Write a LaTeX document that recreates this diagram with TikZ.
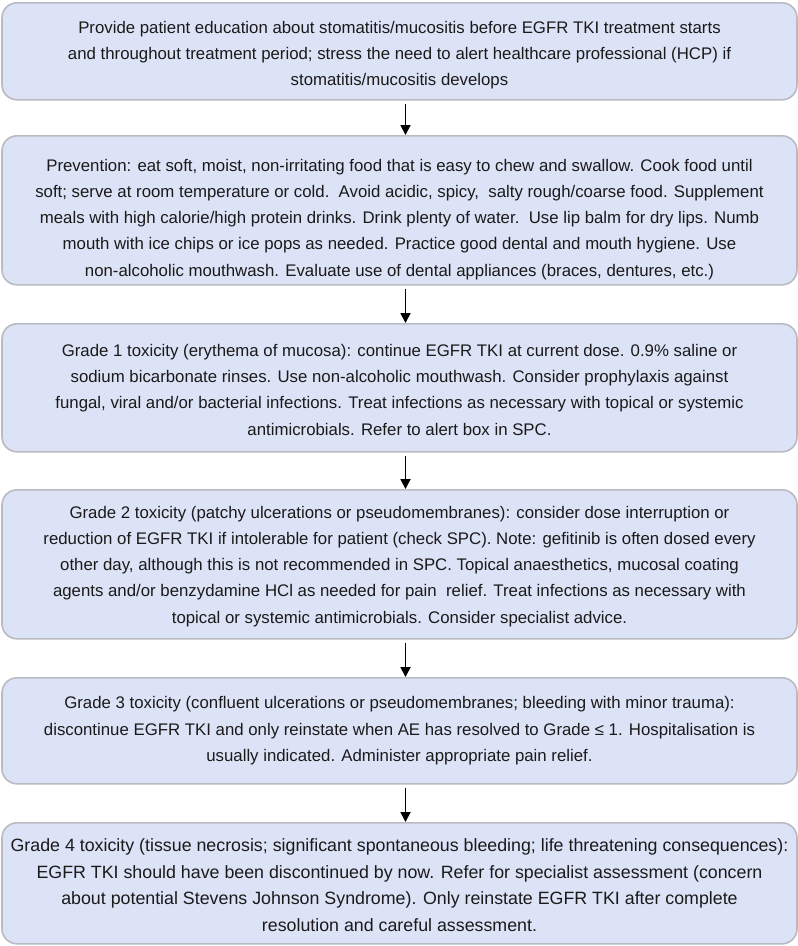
\documentclass[tikz,border=0pt]{standalone}
\usepackage{fontspec}
\setmainfont{Liberation Sans}
\usetikzlibrary{arrows.meta}
\definecolor{boxfill}{HTML}{DDE3F7}
\definecolor{boxline}{HTML}{BABAC2}
\definecolor{txt}{HTML}{1A1A1A}
\begin{document}
\begin{tikzpicture}[x=1pt,y=1pt,
  flowbox/.style={draw=boxline, line width=1.6pt, fill=boxfill, rounded corners=15pt,
    minimum width=795pt, inner sep=0pt, anchor=north},
  boxtext/.style={align=center, text=txt, font=\fontsize{16.8}{26.3}\selectfont, inner sep=0pt},
  bigtext/.style={boxtext, font=\fontsize{17.8}{26.5}\selectfont},
  flowarrow/.style={line width=1.8pt, -{Triangle[width=10pt,length=10pt]}, shorten <=3pt}
]
\useasboundingbox (0,0) rectangle (798,-946);
\node[flowbox, minimum height=97pt]  (b1) at (399.5,-2) {};
\node[flowbox, minimum height=149pt] (b2) at (399.5,-135) {};
\node[flowbox, minimum height=128pt] (b3) at (399.5,-323) {};
\node[flowbox, minimum height=149pt] (b4) at (399.5,-489) {};
\node[flowbox, minimum height=106pt] (b5) at (399.5,-677) {};
\node[flowbox, minimum height=121pt] (b6) at (399.5,-822) {};

\node[boxtext] (t1) at ([yshift=-4pt]b1.center) {Provide patient education about stomatitis/mucositis before EGFR TKI treatment starts\\
and throughout treatment period; stress the need to alert healthcare professional (HCP) if\\
stomatitis/mucositis develops};
\node[boxtext] (t2) at ([yshift=-9pt]b2.center) {Prevention: eat soft, moist, non-irritating food that is easy to chew and swallow. Cook food until\\
soft; serve at room temperature or cold.\ \ Avoid acidic, spicy,\ \ salty rough/coarse food. Supplement\\
meals with high calorie/high protein drinks. Drink plenty of water.\ \ Use lip balm for dry lips. Numb\\
mouth with ice chips or ice pops as needed. Practice good dental and mouth hygiene. Use\\
non-alcoholic mouthwash. Evaluate use of dental appliances (braces, dentures, etc.)};
\node[boxtext] (t3) at ([yshift=-2pt]b3.center) {Grade 1 toxicity (erythema of mucosa): continue EGFR TKI at current dose. 0.9\% saline or\\
sodium bicarbonate rinses. Use non-alcoholic mouthwash. Consider prophylaxis against\\
fungal, viral and/or bacterial infections. Treat infections as necessary with topical or systemic\\
antimicrobials. Refer to alert box in SPC.};
\node[boxtext] (t4) at ([yshift=-2pt]b4.center) {Grade 2 toxicity (patchy ulcerations or pseudomembranes): consider dose interruption or\\
reduction of EGFR TKI if intolerable for patient (check SPC). Note: gefitinib is often dosed every\\
other day, although this is not recommended in SPC. Topical anaesthetics, mucosal coating\\
agents and/or benzydamine HCl as needed for pain\ \ relief. Treat infections as necessary with\\
topical or systemic antimicrobials. Consider specialist advice.};
\node[boxtext] (t5) at ([yshift=0pt]b5.center) {Grade 3 toxicity (confluent ulcerations or pseudomembranes; bleeding with minor trauma):\\
discontinue EGFR TKI and only reinstate when AE has resolved to Grade ≤ 1. Hospitalisation is\\
usually indicated. Administer appropriate pain relief.};
\node[bigtext] (t6) at ([yshift=-2pt]b6.center) {Grade 4 toxicity (tissue necrosis; significant spontaneous bleeding; life threatening consequences):\\
EGFR TKI should have been discontinued by now. Refer for specialist assessment (concern\\
about potential Stevens Johnson Syndrome). Only reinstate EGFR TKI after complete\\
resolution and careful assessment.};

\foreach \a/\b in {b1/b2,b2/b3,b3/b4,b4/b5,b5/b6}
  \draw[flowarrow] ([xshift=6pt]\a.south) -- ([xshift=6pt]\b.north);
\end{tikzpicture}
\end{document}
